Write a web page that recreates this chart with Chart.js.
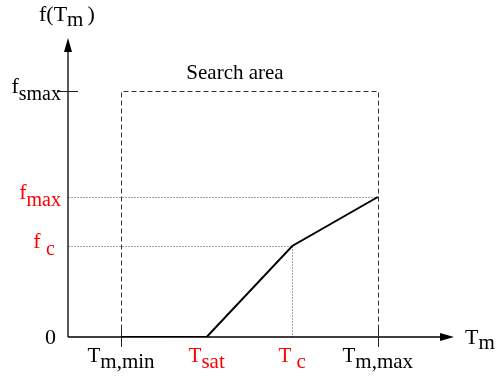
<!DOCTYPE html>
<html>
<head>
<meta charset="utf-8">
<script src="https://cdn.jsdelivr.net/npm/chart.js@4/dist/chart.umd.min.js"></script>
<style>
  html, body { margin: 0; padding: 0; background: #fff; }
  #wrap { width: 500px; height: 381px; }
</style>
</head>
<body>
<div id="wrap"><canvas id="chart" width="500" height="381"></canvas></div>
<script>
// temperature positions on the x axis (T_m,min, T_sat, T_c, T_m,max)
const tempKeys = ['Tmin', 'Tsat', 'Tc', 'Tmax'];
const tempValues = [1, 2, 3, 4];
// objective values at those temperatures
const fValues = [0, 0, 1.82, 2.8];
const fSmax = 4.92;
const xRange = [0.38, 4.89];
const yRange = [0, 5.98];

// tick labels: [main text, subscript, colour]
const xTickLabels = [
    ['T', 'm,min', '#000'],
    ['T', 'sat', '#f00'],
    ['T ', 'c', '#f00'],
    ['T', 'm,max', '#000']
];
const yTickLabels = [
    { v: 0, main: '0', sub: '', color: '#000', right: 56 },
    { v: fValues[2], main: 'f ', sub: 'c', color: '#f00', right: 55 },
    { v: fValues[3], main: 'f', sub: 'max', color: '#f00', right: 61 },
    { v: fSmax, main: 'f', sub: 'smax', color: '#000', right: 61 }
];

const FONT = '"Liberation Serif", "Times New Roman", serif';

// text with a lowered subscript; align = left | center | right
function subText(ctx, x, y, main, sub, color, size, subSize, drop, align) {
    ctx.save();
    ctx.fillStyle = color;
    ctx.textBaseline = 'alphabetic';
    ctx.textAlign = 'left';
    ctx.font = size + 'px ' + FONT;
    const w1 = ctx.measureText(main).width;
    ctx.font = subSize + 'px ' + FONT;
    const w2 = ctx.measureText(sub).width;
    const w = w1 + w2;
    let x0 = x;
    if (align === 'center') x0 = x - w / 2;
    else if (align === 'right') x0 = x - w;
    ctx.font = size + 'px ' + FONT;
    ctx.fillText(main, x0, y);
    ctx.font = subSize + 'px ' + FONT;
    ctx.fillText(sub, x0 + w1, y + drop);
    ctx.restore();
    return x0 + w;
}

const schematic = {
    id: 'schematic',
    beforeDatasetsDraw(chart) {
        const { ctx, scales: { x, y } } = chart;
        const x0 = x.getPixelForValue(xRange[0]);
        const x1 = x.getPixelForValue(xRange[1]);
        const y0 = y.getPixelForValue(0);
        const y1 = y.getPixelForValue(yRange[1]);
        const px = v => Math.round(x.getPixelForValue(v)) + 0.5;
        const py = v => Math.round(y.getPixelForValue(v)) + 0.5;

        ctx.save();
        // search area box
        ctx.strokeStyle = '#333';
        ctx.lineWidth = 1;
        ctx.setLineDash([5, 3]);
        ctx.beginPath();
        ctx.moveTo(px(tempValues[0]), py(0));
        ctx.lineTo(px(tempValues[0]), py(fSmax));
        ctx.lineTo(px(tempValues[3]), py(fSmax));
        ctx.lineTo(px(tempValues[3]), py(0));
        ctx.stroke();

        // dotted guides for f_max and f_c
        ctx.strokeStyle = '#444';
        ctx.setLineDash([1, 2]);
        ctx.beginPath();
        ctx.moveTo(px(xRange[0]), py(fValues[3]));
        ctx.lineTo(px(tempValues[3]), py(fValues[3]));
        ctx.moveTo(px(xRange[0]), py(fValues[2]));
        ctx.lineTo(px(tempValues[2]), py(fValues[2]));
        ctx.moveTo(px(tempValues[2]), py(fValues[2]));
        ctx.lineTo(px(tempValues[2]), py(0));
        ctx.stroke();
        ctx.setLineDash([]);

        // axes with arrow heads
        ctx.strokeStyle = '#000';
        ctx.fillStyle = '#000';
        ctx.lineWidth = 1.3;
        ctx.beginPath();
        ctx.moveTo(x0, y0);
        ctx.lineTo(x1 - 6, y0);
        ctx.moveTo(x0, y0);
        ctx.lineTo(x0, y1 + 6);
        ctx.stroke();
        ctx.beginPath();
        ctx.moveTo(x1, y0);
        ctx.lineTo(x1 - 14, y0 - 4);
        ctx.lineTo(x1 - 14, y0 + 4);
        ctx.closePath();
        ctx.fill();
        ctx.beginPath();
        ctx.moveTo(x0, y1);
        ctx.lineTo(x0 - 4, y1 + 14);
        ctx.lineTo(x0 + 4, y1 + 14);
        ctx.closePath();
        ctx.fill();

        // tick marks
        ctx.lineWidth = 1;
        ctx.strokeStyle = '#222';
        ctx.beginPath();
        [tempValues[0], tempValues[3]].forEach(v => {
            ctx.moveTo(px(v), y0 - 9);
            ctx.lineTo(px(v), y0 + 10);
        });
        ctx.moveTo(x0 - 11, py(fSmax));
        ctx.lineTo(x0 + 10, py(fSmax));
        ctx.stroke();

        // x tick labels
        xTickLabels.forEach((l, i) => {
            subText(ctx, x.getPixelForValue(tempValues[i]), 362, l[0], l[1], l[2], 21, 21, 6, 'center');
        });
        // y tick labels
        yTickLabels.forEach(l => {
            const yy = y.getPixelForValue(l.v);
            if (l.sub) subText(ctx, l.right, yy + 2, l.main, l.sub, l.color, 22, 20, 7, 'right');
            else subText(ctx, l.right, yy + 7, l.main, '', l.color, 22, 20, 0, 'right');
        });

        // axis titles
        const end = subText(ctx, 39, 21, 'f(T', 'm', '#000', 22, 21, 5, 'left');
        ctx.font = '22px ' + FONT;
        ctx.fillStyle = '#000';
        ctx.textAlign = 'left';
        ctx.fillText(')', end + 4, 21);
        subText(ctx, 465, 344, 'T', 'm', '#000', 22, 21, 5, 'left');

        ctx.font = '21px ' + FONT;
        ctx.textAlign = 'center';
        ctx.fillText('Search area', 235, 79);
        ctx.restore();
    }
};

const ctx = document.getElementById('chart').getContext('2d');
new Chart(ctx, {
    type: 'line',
    data: {
        labels: tempKeys,
        datasets: [{
            data: tempValues.map((t, i) => ({ x: t, y: fValues[i] })),
            borderColor: '#000',
            borderWidth: 2,
            pointRadius: 0,
            tension: 0,
            fill: false
        }]
    },
    options: {
        responsive: false,
        animation: false,
        events: [],
        layout: { padding: { left: 68, right: 46, top: 38, bottom: 44 } },
        plugins: { legend: { display: false }, tooltip: { enabled: false } },
        scales: {
            x: { type: 'linear', min: xRange[0], max: xRange[1], display: false },
            y: { type: 'linear', min: yRange[0], max: yRange[1], display: false }
        }
    },
    plugins: [schematic]
});
</script>
</body>
</html>
